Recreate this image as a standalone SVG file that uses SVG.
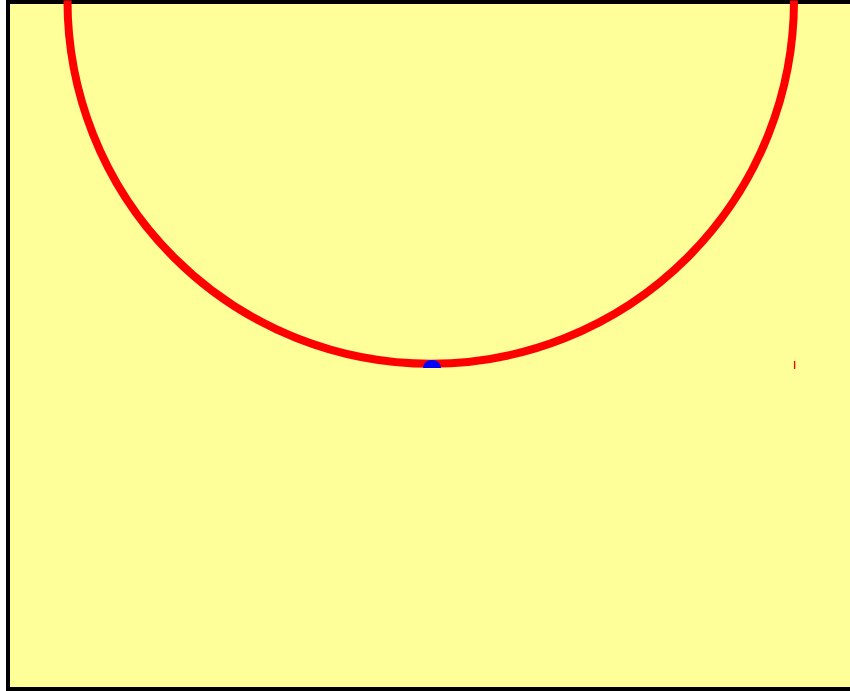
<svg xmlns="http://www.w3.org/2000/svg" width="850" height="691" viewBox="0 0 850 691">
  <style>
    .frame { fill: #ffff99; stroke: #000000; stroke-width: 4; }
    .arc { fill: none; stroke: #ff0000; stroke-width: 8; }
    .tick { stroke: #ff0000; stroke-width: 1.4; }
    .dot { fill: #0000ff; }
  </style>
  <rect x="0" y="0" width="850" height="691" fill="#ffffff"/>
  <rect class="frame" x="8" y="2" width="860" height="687"/>
  <g id="circle">
    <path class="arc" d="M 67.5 0.5 A 363.25 363.25 0 0 0 794 0.5"/>
  </g>
  <g id="point">
    <path class="dot" d="M 423 368 A 9 8 0 0 1 441 368 Z"/>
  </g>
  <g id="tick">
    <line class="tick" x1="794.6" y1="361" x2="794.6" y2="369"/>
  </g>
</svg>
